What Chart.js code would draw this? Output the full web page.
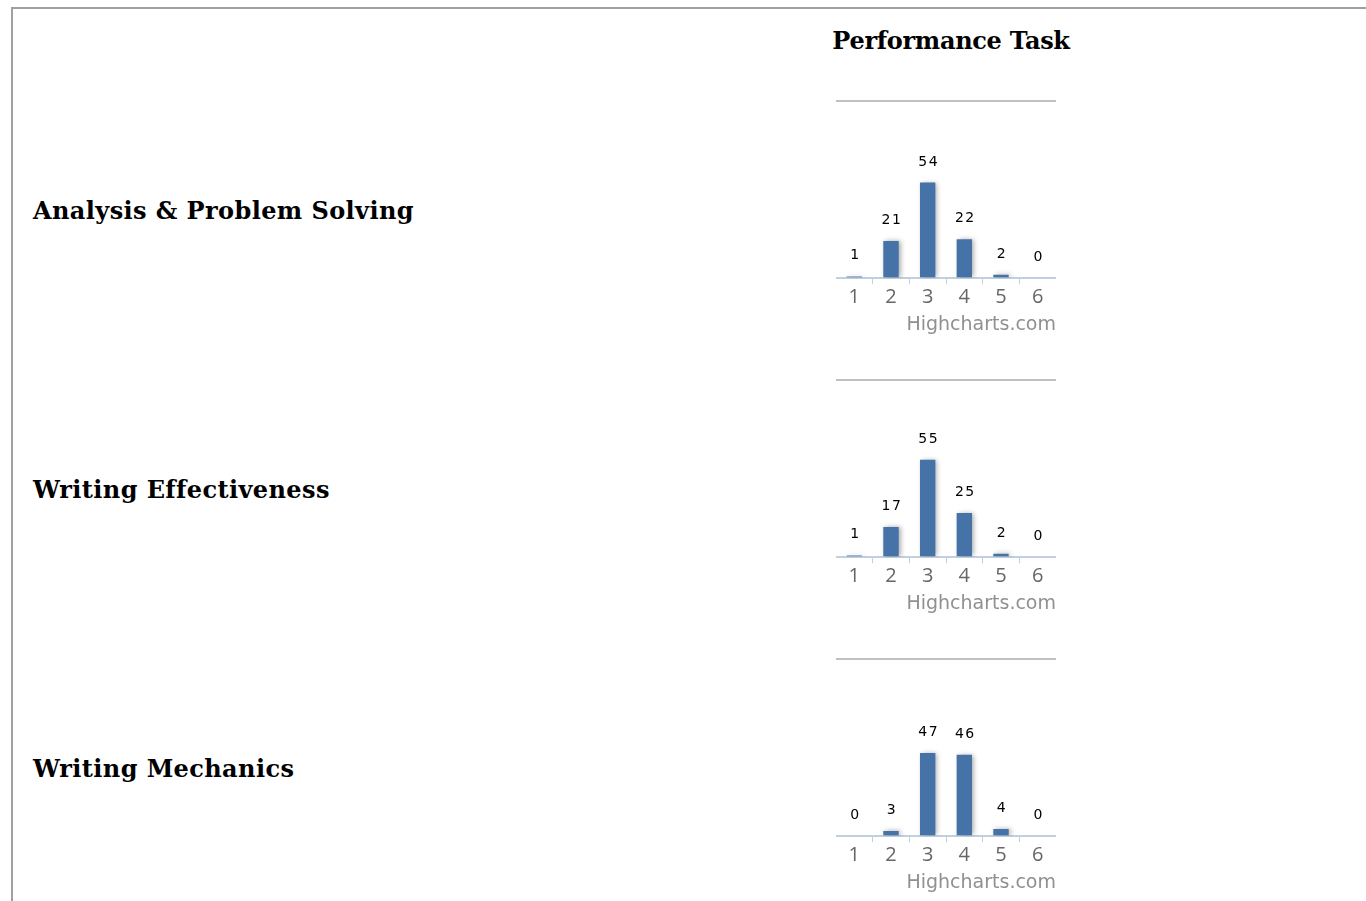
<!DOCTYPE html>
<html>
<head>
<meta charset="utf-8">
<script src="https://cdn.jsdelivr.net/npm/chart.js@4.4.1/dist/chart.umd.min.js"></script>
<style>
  html, body { margin: 0; padding: 0; background: #fff; }
  body { width: 1366px; height: 901px; position: relative; overflow: hidden; }
  .frame { position: absolute; left: 11px; top: 7px; width: 1400px; height: 1000px;
           border-top: 2px solid #a0a0a0; border-left: 2px solid #a0a0a0; }
  .heading, .rowLabel { position: absolute; font-family: "DejaVu Serif", serif; font-weight: bold;
           font-size: 24px; color: #000; white-space: nowrap; line-height: 30px; }
  .heading { left: 951px; top: 26px; transform: translateX(-50%); letter-spacing: -0.3px; }
  .rowLabel { left: 33px; letter-spacing: 0.4px; }
  .box { position: absolute; left: 836px; width: 220px; height: 250px; }
</style>
</head>
<body>
<div class="frame"></div>
<div class="heading">Performance Task</div>
<div id="labels"></div>
<div id="charts"></div>
<script>
const scoreLabels = ['1', '2', '3', '4', '5', '6'];
const rowTitles = ['Analysis & Problem Solving', 'Writing Effectiveness', 'Writing Mechanics'];
const analysisValues = [1, 21, 54, 22, 2, 0];
const effectivenessValues = [1, 17, 55, 25, 2, 0];
const mechanicsValues = [0, 3, 47, 46, 4, 0];
const creditText = 'Highcharts.com';

var allValues = [analysisValues, effectivenessValues, mechanicsValues];
var rowGap = 279;

// shadow behind the columns, like the old highcharts look
var barShadow = {
  id: 'barShadow',
  beforeDatasetsDraw(chart) {
    var ctx = chart.ctx;
    ctx.save();
    ctx.shadowColor = 'rgba(0,0,0,0.35)';
    ctx.shadowBlur = 5;
    ctx.shadowOffsetX = 2;
    ctx.shadowOffsetY = 0;
  },
  afterDatasetsDraw(chart) {
    chart.ctx.restore();
  }
};

// value labels on top of each column
var valueLabels = {
  id: 'valueLabels',
  afterDraw(chart) {
    var ctx = chart.ctx;
    var meta = chart.getDatasetMeta(0);
    var data = chart.data.datasets[0].data;
    ctx.save();
    ctx.font = '14px "DejaVu Sans", sans-serif';
    ctx.fillStyle = '#000';
    ctx.textAlign = 'center';
    ctx.textBaseline = 'alphabetic';
    if ('letterSpacing' in ctx) ctx.letterSpacing = '1.5px';
    meta.data.forEach(function(bar, i) {
      ctx.fillText(String(data[i]), bar.x + 1, bar.y - 17);
    });
    ctx.restore();
  }
};

rowTitles.forEach(function(title, r) {
  var lbl = document.createElement('div');
  lbl.className = 'rowLabel';
  lbl.style.top = (196 + r * rowGap) + 'px';
  lbl.textContent = title;
  document.getElementById('labels').appendChild(lbl);

  var box = document.createElement('div');
  box.className = 'box';
  box.style.top = (90 + r * rowGap) + 'px';
  var cv = document.createElement('canvas');
  box.appendChild(cv);
  document.getElementById('charts').appendChild(box);

  new Chart(cv, {
    type: 'bar',
    data: {
      labels: scoreLabels,
      datasets: [{
        data: allValues[r],
        backgroundColor: '#4572A7',
        borderWidth: 0,
        barPercentage: 0.42,
        categoryPercentage: 1
      }]
    },
    options: {
      responsive: true,
      maintainAspectRatio: false,
      animation: false,
      layout: { padding: { top: 11, left: 0, right: 0, bottom: 0 } },
      plugins: {
        legend: { display: false },
        tooltip: { enabled: false },
        subtitle: {
          display: true,
          text: creditText,
          position: 'bottom',
          align: 'end',
          color: '#909090',
          font: { family: '"DejaVu Sans", sans-serif', size: 19 },
          padding: { top: 3, bottom: 4 }
        }
      },
      scales: {
        x: {
          grid: {
            offset: true,
            drawOnChartArea: false,
            drawTicks: true,
            tickLength: 6,
            color: function(c) { return c.index === 0 ? 'rgba(0,0,0,0)' : '#C0D0E0'; }
          },
          border: { display: true, color: '#C0D0E0', width: 2 },
          ticks: {
            color: '#666',
            padding: 1,
            font: { family: '"Open Sans", sans-serif', size: 20 },
            maxRotation: 0
          }
        },
        y: {
          min: 0,
          max: 100,
          ticks: { display: false, stepSize: 100 },
          grid: {
            drawTicks: false,
            color: function(c) { return c.tick && c.tick.value === 100 ? '#C0C0C0' : 'rgba(0,0,0,0)'; },
            lineWidth: 2
          },
          border: { display: false }
        }
      }
    },
    plugins: [barShadow, valueLabels]
  });
});
</script>
</body>
</html>
